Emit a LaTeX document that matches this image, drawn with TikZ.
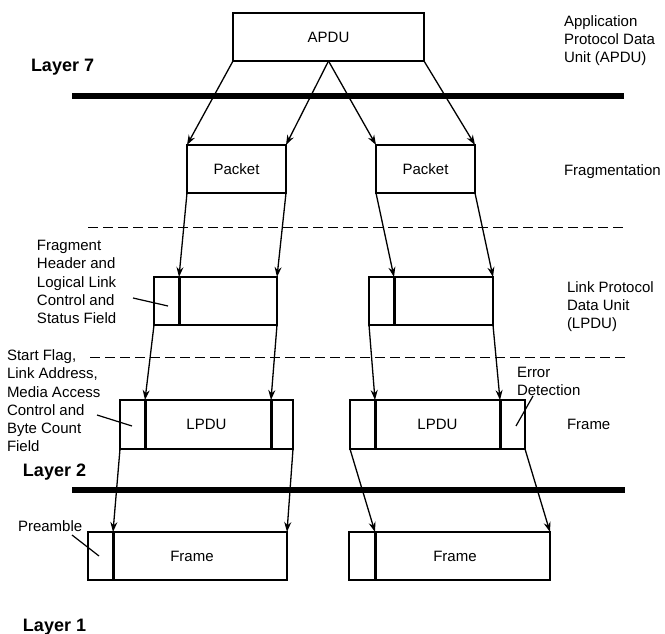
\documentclass[tikz,border=0pt]{standalone}
\usepackage{fontspec}
\setmainfont{Liberation Sans}
\usetikzlibrary{arrows.meta}
\tikzset{
  box/.style={draw, line width=1.3pt, rectangle, inner sep=0pt, outer sep=0pt, font=\fontsize{15}{18}\selectfont},
  sepline/.style={line width=3pt},
  thickline/.style={line width=6pt},
  dashline/.style={line width=1pt, dash pattern=on 10pt off 5pt},
  arr/.style={line width=1.3pt, -{Stealth[length=10pt,width=7pt]}},
  leader/.style={line width=1.2pt},
  lbl/.style={inner sep=0pt, outer sep=0pt, font=\fontsize{15}{18.3}\selectfont, anchor=base west},
  layer/.style={inner sep=0pt, outer sep=0pt, font=\fontsize{18}{20}\selectfont\bfseries, anchor=base west}
}
\begin{document}
\begin{tikzpicture}[x=1pt,y=-1pt]
\useasboundingbox[fill=white] (0,0) rectangle (665,634);

% layer lines
\coordinate (t1a) at (72,96);  \coordinate (t1b) at (624,96);
\coordinate (t2a) at (72,490); \coordinate (t2b) at (625,490);
\draw[thickline] (t1a) -- (t1b);
\draw[thickline] (t2a) -- (t2b);
\coordinate (d1a) at (88,227); \coordinate (d1b) at (625,227);
\coordinate (d2a) at (90,357); \coordinate (d2b) at (625,357);
\draw[dashline] (d1a) -- (d1b);
\draw[dashline] (d2a) -- (d2b);

% boxes
\node[box, minimum width=191pt, minimum height=48pt] (apdu) at (328.5,37) {APDU};
\node[box, minimum width=99pt, minimum height=48pt] (pktL) at (236.5,169) {Packet};
\node[box, minimum width=99pt, minimum height=48pt] (pktR) at (425.5,169) {Packet};
\node[box, minimum width=123pt, minimum height=48pt] (lpL) at (215.5,301) {};
\node[box, minimum width=124pt, minimum height=48pt] (lpR) at (431,301) {};
\node[box, minimum width=173pt, minimum height=49pt] (fmL) at (206.5,424.5) {LPDU};
\node[box, minimum width=175pt, minimum height=49pt] (fmR) at (437.5,424.5) {LPDU};
\node[box, minimum width=199pt, minimum height=48pt] (phL) at (187.5,556) {\hspace*{9pt}Frame};
\node[box, minimum width=201pt, minimum height=48pt] (phR) at (449.5,556) {\hspace*{11pt}Frame};

% separators
\coordinate (lpLs) at (179,277);   \coordinate (lpLsb) at (179,325);
\coordinate (lpRs) at (394,277);   \coordinate (lpRsb) at (394,325);
\coordinate (fmLs1) at (145,400);  \coordinate (fmLs1b) at (145,449);
\coordinate (fmLs2) at (271,400);  \coordinate (fmLs2b) at (271,449);
\coordinate (fmRs1) at (375,400);  \coordinate (fmRs1b) at (375,449);
\coordinate (fmRs2) at (500,400);  \coordinate (fmRs2b) at (500,449);
\coordinate (phLs) at (113,532);   \coordinate (phLsb) at (113,580);
\coordinate (phRs) at (375,532);   \coordinate (phRsb) at (375,580);
\foreach \a/\b in {lpLs/lpLsb, lpRs/lpRsb, fmLs1/fmLs1b, fmLs2/fmLs2b, fmRs1/fmRs1b, fmRs2/fmRs2b, phLs/phLsb, phRs/phRsb}
  \draw[sepline] (\a) -- (\b);

% arrows
\draw[arr] (apdu.south west) -- (pktL.north west);
\draw[arr] (apdu.south) -- (pktL.north east);
\draw[arr] (apdu.south) -- (pktR.north west);
\draw[arr] (apdu.south east) -- (pktR.north east);
\draw[arr] (pktL.south west) -- (lpLs);
\draw[arr] (pktL.south east) -- (lpL.north east);
\draw[arr] (pktR.south west) -- (lpRs);
\draw[arr] (pktR.south east) -- (lpR.north east);
\draw[arr] (lpL.south west) -- (fmLs1);
\draw[arr] (lpL.south east) -- (fmLs2);
\draw[arr] (lpR.south west) -- (fmRs1);
\draw[arr] (lpR.south east) -- (fmRs2);
\draw[arr] (fmL.south west) -- (phLs);
\draw[arr] (fmL.south east) -- (phL.north east);
\draw[arr] (fmR.south west) -- (phRs);
\draw[arr] (fmR.south east) -- (phR.north east);

% labels
\node[lbl] (appl) at (564,26.4) {\vtop{\hbox{Application}\hbox{Protocol Data}\hbox{Unit (APDU)}}};
\node[layer] (l7) at (31,71.5) {Layer 7};
\node[lbl] (frag) at (564,175.4) {Fragmentation};
\node[lbl] (fhdr) at (37,250.4) {\vtop{\hbox{Fragment}\hbox{Header and}\hbox{Logical Link}\hbox{Control and}\hbox{Status Field}}};
\node[lbl] (lpdu) at (567,292.4) {\vtop{\hbox{Link Protocol}\hbox{Data Unit}\hbox{(LPDU)}}};
\node[lbl] (sflag) at (7,360.4) {\vtop{\hbox{Start Flag,}\hbox{Link Address,}\hbox{Media Access}\hbox{Control and}\hbox{Byte Count}\hbox{Field}}};
\node[lbl] (errd) at (517,377.4) {\vtop{\hbox{Error}\hbox{Detection}}};
\node[lbl] (frm) at (567,429.4) {Frame};
\node[layer] (l2) at (23,476.5) {Layer 2};
\node[lbl] (pre) at (18,531.4) {Preamble};
\node[layer] (l1) at (23,631.5) {Layer 1};

% leaders
\coordinate (ld1a) at (133,298); \coordinate (ld1b) at (168,306);
\coordinate (ld2a) at (97,415);  \coordinate (ld2b) at (132,426);
\coordinate (ld3a) at (533,396); \coordinate (ld3b) at (516,426);
\coordinate (ld4a) at (72,535);  \coordinate (ld4b) at (99,556);
\draw[leader] (ld1a) -- (ld1b);
\draw[leader] (ld2a) -- (ld2b);
\draw[leader] (ld3a) -- (ld3b);
\draw[leader] (ld4a) -- (ld4b);
\end{tikzpicture}
\end{document}
